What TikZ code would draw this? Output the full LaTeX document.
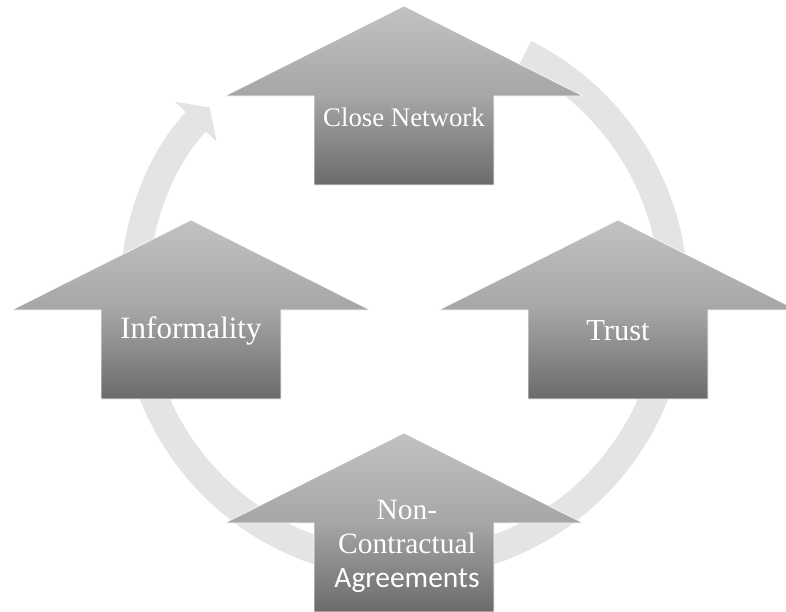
\documentclass[tikz,border=0pt]{standalone}
\usepackage{fontspec}
\setmainfont{Liberation Serif}
\newfontfamily\agreefont{Carlito}
\usepackage{xcolor}
\usetikzlibrary{arrows.meta}
\definecolor{arrowtop}{HTML}{C2C2C2}
\definecolor{arrowmid}{HTML}{A6A6A6}
\definecolor{arrowbot}{HTML}{6B6B6B}
\definecolor{ringgray}{HTML}{E4E4E4}
\tikzset{
  blockarrow/.style = {top color=arrowtop, bottom color=arrowbot,
                       middle color=arrowmid, draw=white, line width=0.6pt},
  arrowtext/.style = {text=white, inner sep=0pt, anchor=base,
                      font=\fontsize{#1}{34}\selectfont},
  arrowtext/.default = 30.5
}

\begin{document}
\begin{tikzpicture}[x=1pt, y=-1pt]
	\def \hw{179} % half width of head
	\def \sw{90}  % half width of shaft
	\def \hh{90}  % head height
	\def \ah{179} % arrow height
	\def \rad{270}

	\useasboundingbox (0,0) rectangle (786,611);
	\clip (0,0) rectangle (786,611);

	% Cycle
	\draw[ringgray, line width=28, -{Triangle[width=57pt, length=20pt]}]
		(404,295) ++(-63.4:\rad) arc[start angle=-63.4, end angle=224, radius=\rad];

	% Arrows
	\path[blockarrow] (404,6) -- ++(\hw,\hh) -- ++(-\hw+\sw,0) -- ++(0,\ah-\hh) -- ++(-2*\sw,0) -- ++(0,-\ah+\hh) -- ++(-\hw+\sw,0) -- cycle; % close network
	\path[blockarrow] (618,220) -- ++(\hw,\hh) -- ++(-\hw+\sw,0) -- ++(0,\ah-\hh) -- ++(-2*\sw,0) -- ++(0,-\ah+\hh) -- ++(-\hw+\sw,0) -- cycle; % trust
	\path[blockarrow] (404,433) -- ++(\hw,\hh) -- ++(-\hw+\sw,0) -- ++(0,\ah-\hh) -- ++(-2*\sw,0) -- ++(0,-\ah+\hh) -- ++(-\hw+\sw,0) -- cycle; % agreements
	\path[blockarrow] (191,220) -- ++(\hw,\hh) -- ++(-\hw+\sw,0) -- ++(0,\ah-\hh) -- ++(-2*\sw,0) -- ++(0,-\ah+\hh) -- ++(-\hw+\sw,0) -- cycle; % informality

	% Labels
	\node[arrowtext=26.8] (closenet) at (404,126) {Close Network};
	\node[arrowtext] (trust) at (618,340) {Trust};
	\node[arrowtext=29.5, align=center] (noncontract) at (407,587) {Non-\\Contractual\\{\agreefont Agreements}};
	\node[arrowtext=31] (informal) at (191,338) {Informality};

\end{tikzpicture}
\end{document}
